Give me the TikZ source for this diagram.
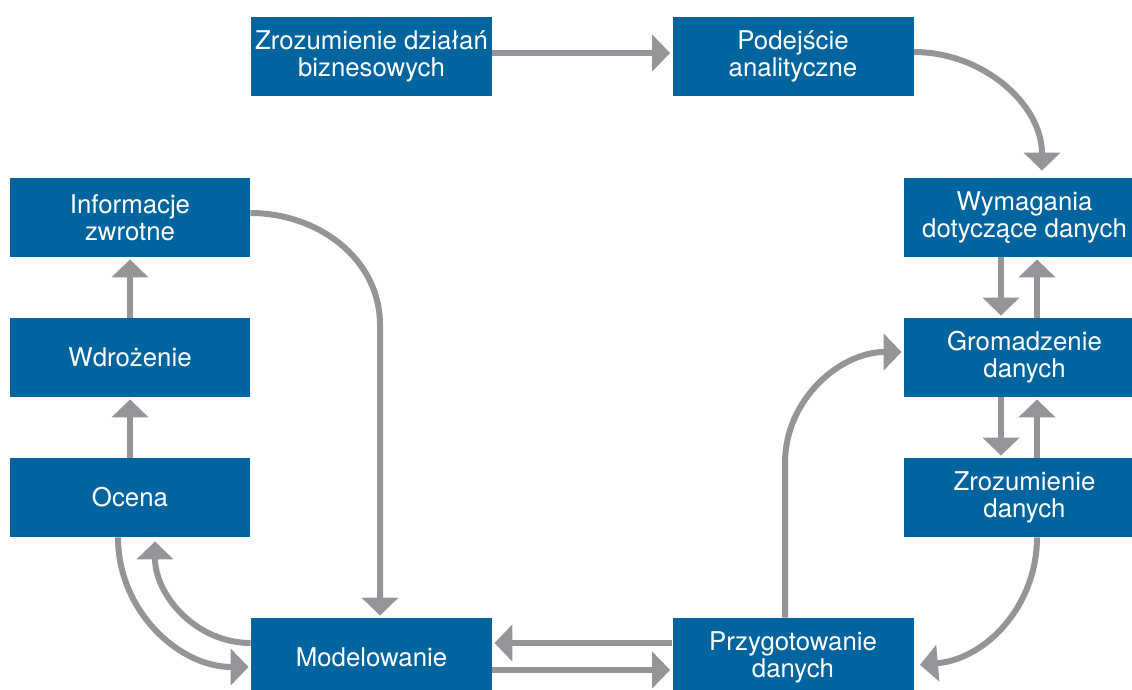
\documentclass[tikz,border=0pt]{standalone}
\usepackage{fontspec}
\setmainfont{TeX Gyre Heros}
\usetikzlibrary{arrows.meta,calc,positioning}
\definecolor{StageBlue}{HTML}{00659E}
\definecolor{FlowGray}{HTML}{939598}

\begin{document}
\begin{tikzpicture}[x=0.5pt,y=-0.5pt,
    stage/.style={fill=StageBlue,text=white,minimum width=120.5pt,minimum height=39.5pt,inner sep=0pt,align=center,font=\fontsize{12.9}{13.5}\selectfont},
    flow/.style={draw=FlowGray,line width=3pt,-{Triangle[width=18pt,length=9pt]},shorten >=1pt}]
      \useasboundingbox (0,0) rectangle (1132,690);
      % top row
      \node[stage] (biz) at (371.5,56.5) {Zrozumienie działań\\biznesowych};
      \node[stage] (approach) at (793,56.5) {Podejście\\analityczne};
      % right column
      \node[stage] (require) at (1024.5,217.5) {Wymagania\\dotyczące danych};
      \node[stage] (collect) at (1024.5,357.5) {Gromadzenie\\danych};
      \node[stage] (understand) at (1024.5,497.5) {Zrozumienie\\danych};
      % left column
      \node[stage,minimum width=120pt] (feedback) at (130,217.5) {Informacje\\zwrotne};
      \node[stage,minimum width=120pt] (deploy) at (130,357.5) {Wdrożenie};
      \node[stage,minimum width=120pt] (evaluate) at (130,497.5) {Ocena};
      % bottom row
      \node[stage] (model) at (371.5,657.5) {Modelowanie};
      \node[stage] (prepare) at (793,657.5) {Przygotowanie\\danych};

      % bends of the curved connectors
      \coordinate (bendfb) at (380,325);
      \coordinate (bendprep) at (785,463);

      \draw[flow] ($(biz.east)+(0,-3.5)$) -- ($(approach.west)+(0,-3.5)$);
      \draw[flow] ($(approach.east)+(0,-4.5)$) to[out=0,in=90] ($(require.north)+(17.5,-5)$);
      \draw[flow] ($(require.south)+(-23.5,0)$) -- ($(collect.north)+(-23.5,0)$);
      \draw[flow] ($(collect.north)+(12.5,0)$) -- ($(require.south)+(12.5,0)$);
      \draw[flow] ($(collect.south)+(-23.5,0)$) -- ($(understand.north)+(-23.5,0)$);
      \draw[flow] ($(understand.north)+(12.5,0)$) -- ($(collect.south)+(12.5,0)$);
      \draw[flow] ($(understand.south)+(12.5,0)$) to[out=-90,in=5] ($(prepare.east)+(4,7.5)$);
      \draw[flow] ($(prepare.north)+(-8,0)$) -- (bendprep) to[out=90,in=180] ($(collect.west)+(0,-5.5)$);
      \draw[flow] ($(prepare.west)+(0,-14.5)$) -- ($(model.east)+(0,-14.5)$);
      \draw[flow] ($(model.east)+(0,12.5)$) -- ($(prepare.west)+(0,12.5)$);
      \draw[flow] ($(feedback.east)+(0,-4.5)$) to[out=0,in=90] (bendfb) -- ($(model.north)+(8.5,0)$);
      \draw[flow] (deploy.north) -- (feedback.south);
      \draw[flow] (evaluate.north) -- (deploy.south);
      \draw[flow] ($(evaluate.south)+(-12,0)$) to[out=-90,in=180] ($(model.west)+(0,9.5)$);
      \draw[flow] ($(model.west)+(0,-14.5)$) to[out=180,in=-90] ($(evaluate.south)+(25,2)$);
    \end{tikzpicture}
\end{document}
